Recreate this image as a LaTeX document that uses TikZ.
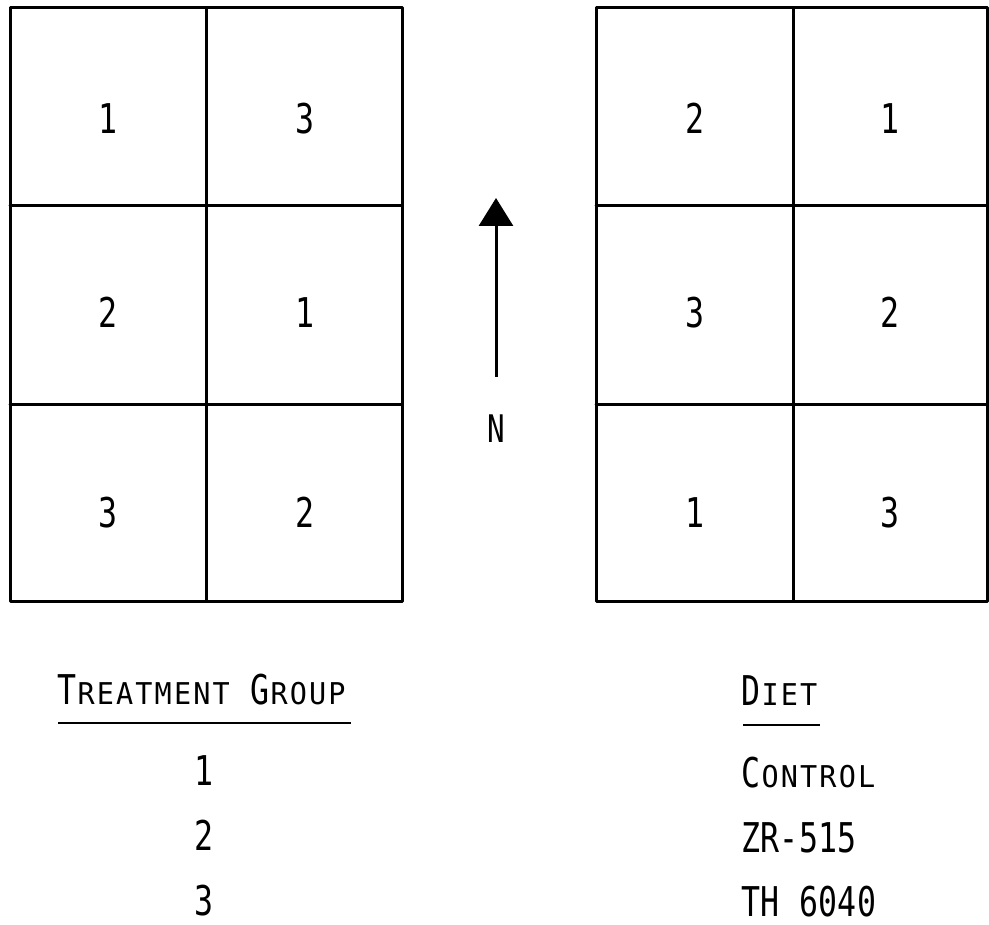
\documentclass[tikz,border=0pt]{standalone}
\usepackage{fontspec}
\usetikzlibrary{arrows.meta}
% condensed monospaced face in the style of a typewriter element
\newfontfamily\gothic[FakeStretch=0.77]{DejaVu Sans Mono}
% wider cut for the small capitals
\newfontfamily\gothicwide[FakeStretch=0.95]{DejaVu Sans Mono}
\newcommand\bigsz{\fontsize{41}{41}\selectfont}
\newcommand\smallsz{\gothicwide\fontsize{30}{30}\selectfont}
\newcommand\nsz{\fontsize{38}{38}\selectfont}
% fixed pitch, one box per character
\makeatletter
\newcommand\pitched[1]{\@tfor\pch:=#1\do{\makebox[19.3pt]{\pch}}}
\makeatother
\newcommand\capbox[1]{\makebox[19.3pt]{\gothic\bigsz #1}}
\newcommand\gap{\hspace{19.3pt}}

\begin{document}
\begin{tikzpicture}[x=1pt,y=-1pt,
  gridline/.style={line width=3pt, line cap=round, line join=round},
  digit/.style={font=\gothic\bigsz, anchor=base, inner sep=0pt},
  label/.style={font=\gothic\bigsz, anchor=base west, inner sep=0pt},
  rule/.style={line width=2pt}]
\useasboundingbox (0,0) rectangle (989,925);

% left plot grid
\draw[gridline] (10,8) rectangle (402,601);
\draw[gridline] (206,8) -- (206,601);
\draw[gridline] (10,206) -- (402,206);
\draw[gridline] (10,405) -- (402,405);

% right plot grid
\draw[gridline] (596,8) rectangle (987,601);
\draw[gridline] (793,8) -- (793,601);
\draw[gridline] (596,206) -- (987,206);
\draw[gridline] (596,405) -- (987,405);

% treatment group in each left plot
\node[digit] (l11) at (108,134) {1};
\node[digit] (l12) at (305,134) {3};
\node[digit] (l21) at (108,328) {2};
\node[digit] (l22) at (305,328) {1};
\node[digit] (l31) at (108,527) {3};
\node[digit] (l32) at (305,527) {2};

% treatment group in each right plot
\node[digit] (r11) at (695,134) {2};
\node[digit] (r12) at (890,134) {1};
\node[digit] (r21) at (695,328) {3};
\node[digit] (r22) at (890,328) {2};
\node[digit] (r31) at (695,527) {1};
\node[digit] (r32) at (890,527) {3};

% north arrow
\coordinate (ntail) at (496,377);
\coordinate (nhead) at (496,198);
\draw[line width=3pt, -{Triangle[width=34pt,length=28pt]}] (ntail) -- (nhead);
\node[font=\gothic\nsz, anchor=base, inner sep=0pt] (north) at (496,443) {N};

% key: treatment groups
\node[label] (tghead) at (57,704)
  {\capbox{T}\smallsz\pitched{REATMENT}\gap\capbox{G}\smallsz\pitched{ROUP}};
\draw[rule] (58,723) -- (351,723);
\node[digit] (tg1) at (204,785) {1};
\node[digit] (tg2) at (204,850) {2};
\node[digit] (tg3) at (204,915) {3};

% key: diets
\node[label] (diethead) at (741,705) {\capbox{D}\smallsz\pitched{IET}};
\draw[rule] (743,725) -- (820,725);
\node[label] (diet1) at (741,787) {\capbox{C}\smallsz\pitched{ONTROL}};
\node[label] (diet2) at (741,852) {\pitched{ZR-515}};
\node[label] (diet3) at (741,916) {\pitched{TH}\gap\pitched{6040}};
\end{tikzpicture}
\end{document}
